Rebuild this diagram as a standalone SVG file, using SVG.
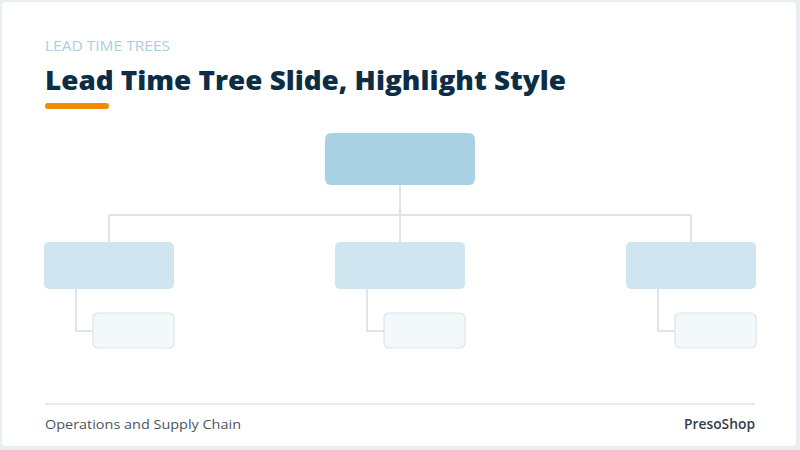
<svg xmlns="http://www.w3.org/2000/svg" width="800" height="450" viewBox="0 0 800 450">
  <style>
    .conn { stroke: #dde4ea; stroke-width: 2; fill: none; }
    .l1 { fill: #a8d1e3; }
    .l2 { fill: #cfe5ef; }
    .l3 { fill: #f3f8fb; stroke: #dbe5ec; stroke-width: 1.2; }
    .kicker { font-family: "Open Sans", "Liberation Sans", sans-serif; font-size: 14.5px; fill: #a9d0de; }
    .title { font-family: "Open Sans", "Liberation Sans", sans-serif; font-size: 26px; font-weight: 800; fill: #0d2d45; }
    .foot { font-family: "Open Sans", "Liberation Sans", sans-serif; font-size: 13.5px; fill: #4a5560; }
    .brand { font-family: "Open Sans", "Liberation Sans", sans-serif; font-size: 13.5px; font-weight: 600; fill: #333d47; }
  </style>
  <rect x="0" y="0" width="800" height="450" fill="#e9eef2"/>
  <rect x="2" y="2" width="794" height="444" rx="4" fill="#ffffff"/>

  <text class="kicker" x="45" y="51" textLength="125" lengthAdjust="spacingAndGlyphs">LEAD TIME TREES</text>
  <text class="title" x="45" y="90" textLength="521" lengthAdjust="spacingAndGlyphs">Lead Time Tree Slide, Highlight Style</text>
  <rect x="45" y="103" width="64" height="6" rx="3" fill="#f08a00"/>

  <g id="connectors">
    <path class="conn" d="M400 185 V215 M109 215 H691 M109 215 V242 M400 215 V242 M691 215 V242"/>
    <path class="conn" d="M76 289 V331 H93"/>
    <path class="conn" d="M367 289 V331 H384"/>
    <path class="conn" d="M658 289 V331 H675"/>
  </g>

  <g id="root"><rect class="l1" x="325" y="133" width="150" height="52" rx="6"/></g>
  <g id="left"><rect class="l2" x="44" y="242" width="130" height="47" rx="5"/></g>
  <g id="middle"><rect class="l2" x="335" y="242" width="130" height="47" rx="5"/></g>
  <g id="right"><rect class="l2" x="626" y="242" width="130" height="47" rx="5"/></g>
  <g id="left-child"><rect class="l3" x="93" y="313" width="81" height="35" rx="5"/></g>
  <g id="middle-child"><rect class="l3" x="384" y="313" width="81" height="35" rx="5"/></g>
  <g id="right-child"><rect class="l3" x="675" y="313" width="81" height="35" rx="5"/></g>

  <line x1="45" y1="404" x2="755" y2="404" stroke="#e6ebef" stroke-width="2"/>
  <text class="foot" x="45" y="429" textLength="196" lengthAdjust="spacingAndGlyphs">Operations and Supply Chain</text>
  <text class="brand" x="755" y="429" text-anchor="end" textLength="71" lengthAdjust="spacingAndGlyphs">PresoShop</text>
</svg>
